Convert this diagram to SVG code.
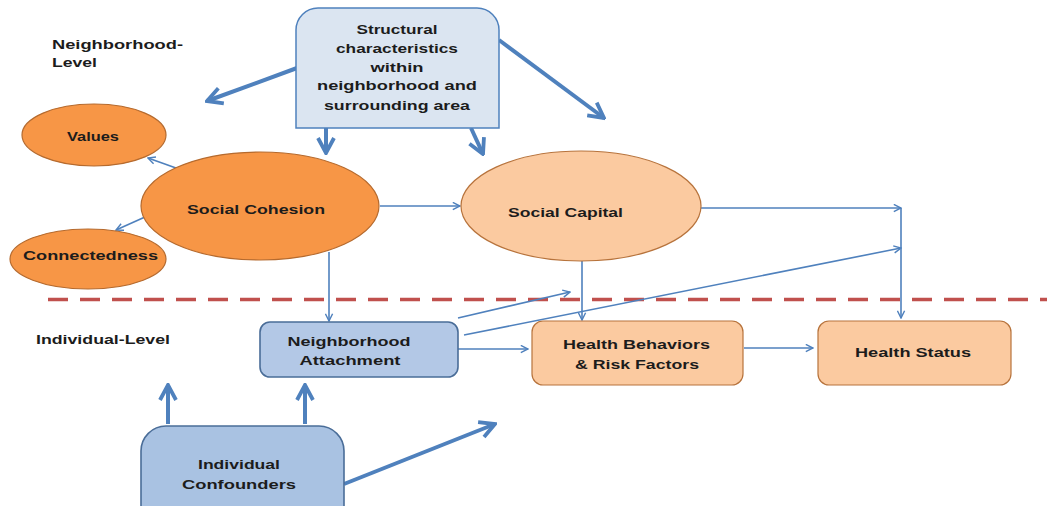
<svg xmlns="http://www.w3.org/2000/svg" width="1047" height="506" viewBox="0 0 1047 506">
<defs>
<style>
.t{font-family:"Liberation Sans",Arial,sans-serif;font-weight:bold;font-size:12.5px;fill:#1c1c1c;text-anchor:middle}
.tl{text-anchor:start}
.thin{stroke:#4f81bd;stroke-width:1.6;fill:none}
.thick{stroke:#4f81bd;stroke-width:4;fill:none}
.oDark{fill:#f79646;stroke:#b56a2e;stroke-width:1.2}
.oLight{fill:#fbcaa0;stroke:#b7733c;stroke-width:1.2}
.bLight{fill:#dbe5f1;stroke:#4f81bd;stroke-width:1.5}
.bMid{fill:#b3c8e6;stroke:#4a6d98;stroke-width:1.6}
.bDark{fill:#a9c2e2;stroke:#4a6d98;stroke-width:1.6}
</style>
<marker id="ah" viewBox="0 0 10 10" refX="9" refY="5" markerWidth="9" markerHeight="9" markerUnits="userSpaceOnUse" orient="auto">
<path d="M1,1 L9,5 L1,9" fill="none" stroke="#4f81bd" stroke-width="1.6"/>
</marker>
<marker id="ahT" viewBox="0 0 20 20" refX="18" refY="10" markerWidth="20" markerHeight="20" markerUnits="userSpaceOnUse" orient="auto">
<path d="M3,2 L18,10 L3,18" fill="none" stroke="#4f81bd" stroke-width="3.8" stroke-linejoin="miter"/>
</marker>
</defs>
<rect width="1047" height="506" fill="#ffffff"/>

<g id="divider">
<line x1="48" y1="299.5" x2="1047" y2="299.5" stroke="#c0504d" stroke-width="3.5" stroke-dasharray="20 12"/>
</g>

<g id="labels">
<text class="t tl" x="52" y="48.5" textLength="131" lengthAdjust="spacingAndGlyphs">Neighborhood-</text>
<text class="t tl" x="52" y="66.5" textLength="45" lengthAdjust="spacingAndGlyphs">Level</text>
<text class="t tl" x="36" y="343.5" textLength="134" lengthAdjust="spacingAndGlyphs">Individual-Level</text>
</g>

<g id="connectors">
<line class="thick" x1="297" y1="68" x2="207" y2="101" marker-end="url(#ahT)"/>
<line class="thick" x1="326" y1="128" x2="326" y2="153" marker-end="url(#ahT)"/>
<line class="thick" x1="471" y1="128" x2="483" y2="154" marker-end="url(#ahT)"/>
<line class="thick" x1="499" y1="40" x2="604" y2="118" marker-end="url(#ahT)"/>
<line class="thin" x1="176" y1="168" x2="148" y2="158" marker-end="url(#ah)"/>
<line class="thin" x1="145" y1="217" x2="116" y2="230" marker-end="url(#ah)"/>
<line class="thin" x1="380" y1="206" x2="460" y2="206" marker-end="url(#ah)"/>
<line class="thin" x1="701" y1="208" x2="901" y2="208" marker-end="url(#ah)"/>
<polyline class="thin" points="901,208 901,318" marker-end="url(#ah)"/>
<line class="thin" x1="582" y1="261" x2="582" y2="320" marker-end="url(#ah)"/>
<line class="thin" x1="329" y1="252" x2="329" y2="321" marker-end="url(#ah)"/>
<line class="thin" x1="458" y1="318" x2="570" y2="292" marker-end="url(#ah)"/>
<line class="thin" x1="464" y1="335" x2="901" y2="248" marker-end="url(#ah)"/>
<line class="thin" x1="458" y1="349" x2="528" y2="349" marker-end="url(#ah)"/>
<line class="thin" x1="744" y1="348" x2="813" y2="348" marker-end="url(#ah)"/>
<line class="thick" x1="168" y1="424" x2="168" y2="385" marker-end="url(#ahT)"/>
<line class="thick" x1="305" y1="424" x2="305" y2="385" marker-end="url(#ahT)"/>
<line class="thick" x1="344" y1="484" x2="495" y2="424" marker-end="url(#ahT)"/>
</g>

<g id="structural">
<path class="bLight" d="M296,128 L296,30 A22,22 0 0 1 318,8 L477,8 A22,22 0 0 1 499,30 L499,128 Z"/>
<text class="t" x="397" y="33.5" textLength="81" lengthAdjust="spacingAndGlyphs">Structural</text>
<text class="t" x="397" y="52.5" textLength="122" lengthAdjust="spacingAndGlyphs">characteristics</text>
<text class="t" x="397" y="71.5" textLength="53" lengthAdjust="spacingAndGlyphs">within</text>
<text class="t" x="397" y="89.5" textLength="160" lengthAdjust="spacingAndGlyphs">neighborhood and</text>
<text class="t" x="397" y="109.5" textLength="146" lengthAdjust="spacingAndGlyphs">surrounding area</text>
</g>

<g id="values">
<ellipse class="oDark" cx="94" cy="135" rx="72" ry="31"/>
<text class="t" x="93" y="140.5" textLength="52" lengthAdjust="spacingAndGlyphs">Values</text>
</g>

<g id="connectedness">
<ellipse class="oDark" cx="88" cy="259" rx="78" ry="30"/>
<text class="t" x="90.5" y="259.5" textLength="135" lengthAdjust="spacingAndGlyphs">Connectedness</text>
</g>

<g id="social-cohesion">
<ellipse class="oDark" cx="260" cy="206" rx="119" ry="54"/>
<text class="t" x="256" y="213.5" textLength="138" lengthAdjust="spacingAndGlyphs">Social  Cohesion</text>
</g>

<g id="social-capital">
<ellipse class="oLight" cx="581" cy="206" rx="120" ry="55"/>
<text class="t" x="565.5" y="216.5" textLength="115" lengthAdjust="spacingAndGlyphs">Social  Capital</text>
</g>

<g id="neighborhood-attachment">
<rect class="bMid" x="260" y="322" width="198" height="55" rx="10"/>
<text class="t" x="349" y="345.5" textLength="123" lengthAdjust="spacingAndGlyphs">Neighborhood</text>
<text class="t" x="350" y="364.5" textLength="101" lengthAdjust="spacingAndGlyphs">Attachment</text>
</g>

<g id="health-behaviors">
<rect class="oLight" x="532" y="321" width="211" height="64" rx="11"/>
<text class="t" x="636.5" y="349" textLength="147" lengthAdjust="spacingAndGlyphs">Health Behaviors</text>
<text class="t" x="637" y="368.5" textLength="124" lengthAdjust="spacingAndGlyphs">&amp; Risk Factors</text>
</g>

<g id="health-status">
<rect class="oLight" x="818" y="321" width="193" height="64" rx="11"/>
<text class="t" x="913" y="356.5" textLength="116" lengthAdjust="spacingAndGlyphs">Health Status</text>
</g>

<g id="individual-confounders">
<path class="bDark" d="M141,522 L141,451 A25,25 0 0 1 166,426 L319,426 A25,25 0 0 1 344,451 L344,522 Z"/>
<text class="t" x="239" y="468.5" textLength="82" lengthAdjust="spacingAndGlyphs">Individual</text>
<text class="t" x="239" y="488.5" textLength="114" lengthAdjust="spacingAndGlyphs">Confounders</text>
</g>
</svg>
